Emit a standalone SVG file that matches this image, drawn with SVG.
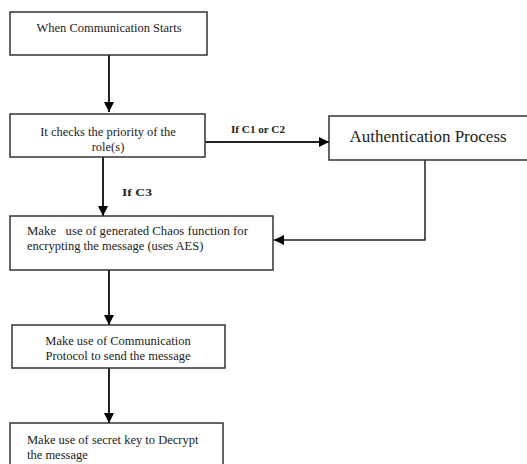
<svg xmlns="http://www.w3.org/2000/svg" width="527" height="464" viewBox="0 0 527 464">
<defs>
<marker id="ah" viewBox="0 0 10 10" refX="10" refY="5" markerWidth="10" markerHeight="10" markerUnits="userSpaceOnUse" orient="auto"><path d="M0,0 L10,5 L0,10 Z" fill="#000"/></marker>
<style>
.box{fill:#fff;stroke:#333;stroke-width:1.5}
.t{font-size:12.5px;fill:#222}
.big{font-size:17px}
.lbl{font-size:10.5px;font-weight:bold;fill:#222}
.c{fill:none;stroke:#222;stroke-width:2}
</style>
</defs>
<rect width="527" height="464" fill="#fff"/>
<g font-family="'Liberation Serif', 'Times New Roman', Times, serif">
<g id="connectors">
<line class="c" x1="109" y1="55" x2="109" y2="112" marker-end="url(#ah)"/>
<line class="c" x1="103" y1="157" x2="103" y2="216" marker-end="url(#ah)"/>
<line class="c" x1="205" y1="142" x2="329" y2="142" marker-end="url(#ah)"/>
<polyline class="c" points="425,160 425,240 274,240" marker-end="url(#ah)" style="stroke-width:1.5"/>
<line class="c" x1="109" y1="270" x2="109" y2="325" marker-end="url(#ah)"/>
<line class="c" x1="109" y1="368" x2="109" y2="423" marker-end="url(#ah)"/>
<text class="lbl" x="231" y="133" textLength="54" lengthAdjust="spacingAndGlyphs">If C1 or C2</text>
<text class="lbl" x="122" y="196" textLength="30" lengthAdjust="spacingAndGlyphs">If C3</text>
</g>
<g id="n1">
<rect class="box" x="10" y="12" width="197" height="43"/>
<text class="t" x="109" y="32" text-anchor="middle">When Communication Starts</text>
</g>
<g id="n2">
<rect class="box" x="10" y="114" width="195" height="43"/>
<text class="t" x="108" y="136" text-anchor="middle">It checks the priority of the</text>
<text class="t" x="108" y="151" text-anchor="middle">role(s)</text>
</g>
<g id="n3">
<rect class="box" x="329" y="116" width="200" height="44"/>
<text class="t big" x="428" y="142" text-anchor="middle">Authentication Process</text>
</g>
<g id="n4">
<rect class="box" x="10" y="216" width="263" height="54"/>
<text class="t" x="27" y="235" xml:space="preserve" textLength="221" lengthAdjust="spacingAndGlyphs">Make   use of generated Chaos function for</text>
<text class="t" x="27" y="250">encrypting the message (uses AES)</text>
</g>
<g id="n5">
<rect class="box" x="12" y="325" width="213" height="43"/>
<text class="t" x="118" y="345" text-anchor="middle">Make use of Communication</text>
<text class="t" x="118" y="360" text-anchor="middle">Protocol to send the message</text>
</g>
<g id="n6">
<rect class="box" x="10" y="423" width="213" height="50"/>
<text class="t" x="27" y="444">Make use of secret key to Decrypt</text>
<text class="t" x="27" y="459">the message</text>
</g>
</g>
</svg>
